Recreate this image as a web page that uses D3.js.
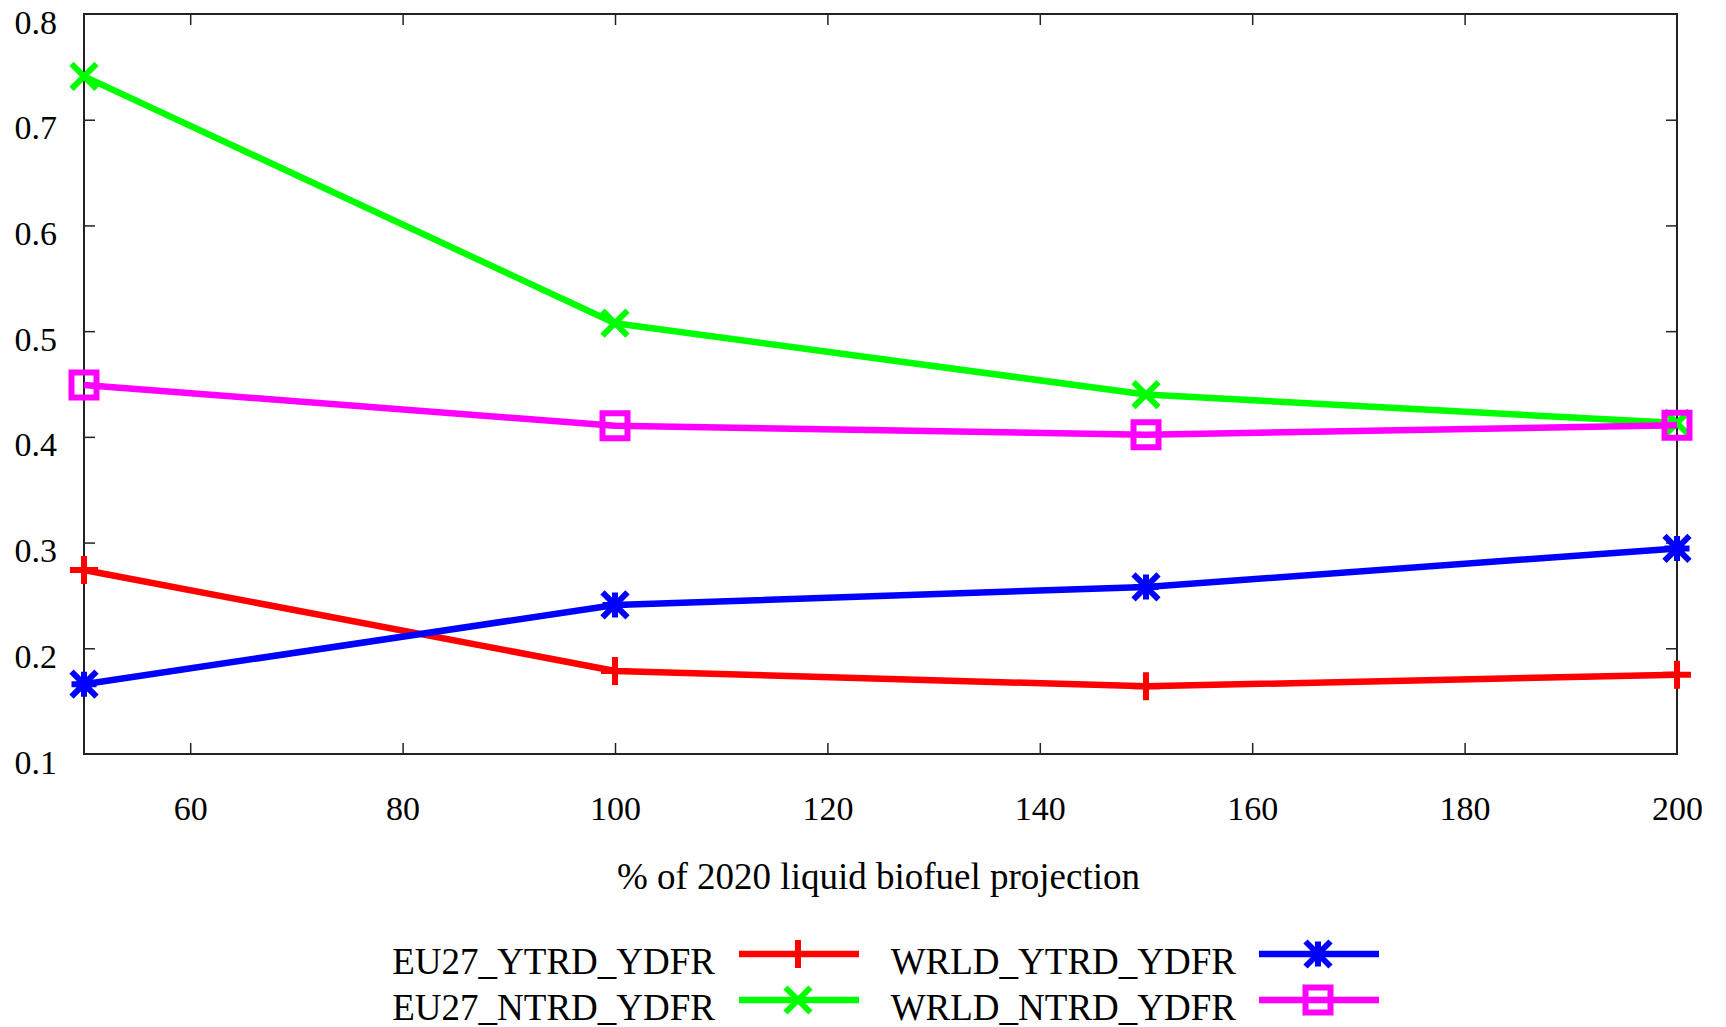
<!DOCTYPE html>
<html>
<head>
<meta charset="utf-8">
<script src="https://cdn.jsdelivr.net/npm/d3@7"></script>
<style>
  body { margin: 0; background: #fff; }
  text { font-family: "Liberation Serif", "Times New Roman", serif; fill: #000; }
  .axis .domain { display: none; }
  .axis line { stroke: #222; stroke-width: 1.5; }
</style>
</head>
<body>
<div class="chartCont"></div>
<script>
var w = 1726;
var h = 1027;

// data
var pctValues = [50, 100, 150, 200];
var eu27Ytrd = [0.274, 0.1785, 0.164, 0.175];
var eu27Ntrd = [0.741, 0.5075, 0.440, 0.413];
var wrldYtrd = [0.166, 0.241, 0.258, 0.2945];
var wrldNtrd = [0.449, 0.4105, 0.402, 0.411];

var seriesNames = ["EU27_YTRD_YDFR", "EU27_NTRD_YDFR", "WRLD_YTRD_YDFR", "WRLD_NTRD_YDFR"];
var seriesColors = ["#ff0000", "#00ff00", "#0000ff", "#ff00ff"];
var seriesMarks = ["plus", "cross", "star", "square"];

var xTicks = [60, 80, 100, 120, 140, 160, 180, 200];
var yTicks = [0.1, 0.2, 0.3, 0.4, 0.5, 0.6, 0.7, 0.8];

var series = [eu27Ytrd, eu27Ntrd, wrldYtrd, wrldNtrd].map(function(vals, i) {
  return {
    name: seriesNames[i],
    color: seriesColors[i],
    mark: seriesMarks[i],
    points: vals.map(function(v, j) { return [pctValues[j], v]; })
  };
});

var plotL = 84, plotR = 1677, plotT = 14, plotB = 754;

var svg = d3.select(".chartCont").append("svg")
    .attr("width", w)
    .attr("height", h);

var x = d3.scaleLinear()
    .domain([50, 200])
    .range([plotL, plotR]);

var y = d3.scaleLinear()
    .domain([0.1, 0.8])
    .range([plotB, plotT]);

// axes, ticks pointing inward
var xAxis = svg.append("g")
    .attr("class", "axis")
    .attr("transform", "translate(0," + plotB + ")")
    .call(d3.axisBottom(x).tickValues(xTicks).tickSize(-11).tickPadding(42).tickFormat(d3.format("d")));
xAxis.selectAll("text").style("font-size", "34px");
xAxis.selectAll(".tick line").filter(function(d) { return d === 200; }).remove();

svg.append("g")
    .attr("class", "axis")
    .attr("transform", "translate(0," + plotT + ")")
    .call(d3.axisTop(x).tickValues(xTicks.slice(0, -1)).tickSize(-11).tickFormat(""));

var yAxis = svg.append("g")
    .attr("class", "axis")
    .attr("transform", "translate(" + plotL + ",0)")
    .call(d3.axisLeft(y).tickValues(yTicks).tickSize(-11).tickPadding(27).tickFormat(d3.format(".1f")));
yAxis.selectAll("text").style("font-size", "34px").attr("dy", "0.56em");
yAxis.selectAll(".tick line").filter(function(d) { return d === 0.1 || d === 0.8; }).remove();

svg.append("g")
    .attr("class", "axis")
    .attr("transform", "translate(" + plotR + ",0)")
    .call(d3.axisRight(y).tickValues(yTicks.slice(1, -1)).tickSize(-11).tickFormat(""));

svg.append("rect")
    .attr("x", plotL)
    .attr("y", plotT)
    .attr("width", plotR - plotL)
    .attr("height", plotB - plotT)
    .attr("fill", "none")
    .attr("stroke", "#222")
    .attr("stroke-width", 2);

svg.append("text")
    .attr("x", (plotL + plotR) / 2 - 2)
    .attr("y", 889)
    .attr("text-anchor", "middle")
    .style("font-size", "37px")
    .text("% of 2020 liquid biofuel projection");

// marker shapes (gnuplot style point types)
function markPath(type) {
  var s = 12.5, p = 14;
  if (type === "plus") return "M" + (-p) + ",0H" + p + "M0," + (-p) + "V" + p;
  if (type === "cross") return "M" + (-s) + "," + (-s) + "L" + s + "," + s + "M" + (-s) + "," + s + "L" + s + "," + (-s);
  if (type === "star") return markPath("plus").replace(/14/g, "12.5") + markPath("cross");
  return "M" + (-s) + "," + (-s) + "H" + s + "V" + s + "H" + (-s) + "Z";
}

var line = d3.line()
    .x(function(d) { return x(d[0]); })
    .y(function(d) { return y(d[1]); });

var groups = svg.selectAll(".series")
    .data(series)
    .enter()
    .append("g")
    .attr("class", "series");

groups.append("path")
    .attr("d", function(d) { return line(d.points); })
    .attr("fill", "none")
    .attr("stroke", function(d) { return d.color; })
    .attr("stroke-width", 6.5)
    .attr("stroke-linejoin", "round");

groups.selectAll(".mark")
    .data(function(d) { return d.points.map(function(p) { return {p: p, s: d}; }); })
    .enter()
    .append("path")
    .attr("class", "mark")
    .attr("transform", function(d) { return "translate(" + x(d.p[0]) + "," + y(d.p[1]) + ")"; })
    .attr("d", function(d) { return markPath(d.s.mark); })
    .attr("fill", "none")
    .attr("stroke", function(d) { return d.s.color; })
    .attr("stroke-width", 6);

// legend, two columns
var legendCols = [{textEnd: 715, lineX: 739}, {textEnd: 1236, lineX: 1259}];
var legendRows = [954, 1000];

var legend = svg.selectAll(".legendItem")
    .data(series)
    .enter()
    .append("g")
    .attr("class", "legendItem")
    .attr("transform", function(d, i) { return "translate(0," + legendRows[i % 2] + ")"; });

legend.append("text")
    .attr("x", function(d, i) { return legendCols[Math.floor(i / 2)].textEnd; })
    .attr("y", 20)
    .attr("text-anchor", "end")
    .style("font-size", "37px")
    .text(function(d) { return d.name; });

legend.append("line")
    .attr("x1", function(d, i) { return legendCols[Math.floor(i / 2)].lineX; })
    .attr("x2", function(d, i) { return legendCols[Math.floor(i / 2)].lineX + 120; })
    .attr("stroke", function(d) { return d.color; })
    .attr("stroke-width", 6.5);

legend.append("path")
    .attr("transform", function(d, i) { return "translate(" + (legendCols[Math.floor(i / 2)].lineX + 59) + ",0)"; })
    .attr("d", function(d) { return markPath(d.mark); })
    .attr("fill", "none")
    .attr("stroke", function(d) { return d.color; })
    .attr("stroke-width", 6);
</script>
</body>
</html>
